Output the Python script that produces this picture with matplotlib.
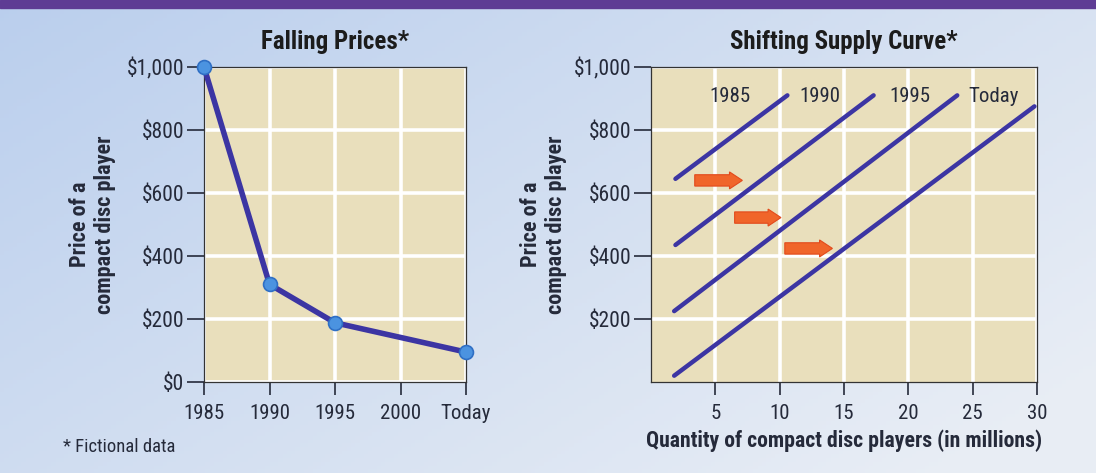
import numpy as np
import matplotlib
matplotlib.use("Agg")
import matplotlib.pyplot as plt
from matplotlib import font_manager
from matplotlib.patches import FancyArrow, Rectangle

# ---- data -------------------------------------------------------------
years = ["1985", "1990", "1995", "2000", "Today"]
price_years = [0, 1, 2, 4]          # positions of 1985, 1990, 1995, Today
prices = [1000, 310, 188, 95]

supply_names = ["1985", "1990", "1995", "Today"]
supply_q0 = [1.9, 1.9, 1.8, 1.8]
supply_p0 = [645, 435, 225, 20]
supply_q1 = [10.6, 17.3, 23.8, 29.8]
supply_p1 = [910, 910, 910, 875]
label_q = [6.15, 13.1, 20.1, 26.6]
label_p = 905

arrow_q0 = [3.4, 6.5, 10.4]
arrow_q1 = [7.1, 10.1, 14.1]
arrow_p = [640, 522, 424]

price_ticks = [0, 200, 400, 600, 800, 1000]
qty_ticks = [5, 10, 15, 20, 25, 30]

# ---- fonts: want something narrow like the textbook's condensed face ----
names = {f.name for f in font_manager.fontManager.ttflist}
narrow = [n for n in ["Liberation Sans Narrow", "Roboto Condensed",
                      "DejaVu Sans Condensed", "Open Sans Condensed"]
          if n in names]
FONT = narrow[0] if narrow else "Roboto"
plt.rcParams["font.family"] = [FONT, "DejaVu Sans"]
K = 1.0 if narrow else 0.86      # shrink when no condensed face exists

TAN = "#e9dfbc"
LINE = "#3c35a3"
TXT = "#252a3a"

fig = plt.figure(figsize=(10.96, 4.73), dpi=100)

# page background: light blue wash plus purple band at top
bg = fig.add_axes([0, 0, 1, 1], zorder=-10)
xx, yy = np.meshgrid(np.linspace(0, 1, 256), np.linspace(0, 1, 128))
t = np.clip(0.65 * xx + 0.45 * (1 - yy), 0, 1)
c0 = np.array([0.73, 0.81, 0.93])
c1 = np.array([0.91, 0.93, 0.96])
img = c0 * (1 - t[..., None]) + c1 * t[..., None]
bg.imshow(img, extent=[0, 1, 0, 1], aspect="auto", origin="lower")
bg.add_patch(Rectangle((0, 1 - 8 / 473), 1, 8 / 473, color="#5e3c94"))
bg.set_xlim(0, 1)
bg.set_ylim(0, 1)
bg.axis("off")


def style(ax):
    ax.set_facecolor(TAN)
    ax.set_axisbelow(True)
    ax.grid(color="white", lw=2.6)
    for s in ax.spines.values():
        s.set_color("#333333")
        s.set_linewidth(0.9)
    ax.tick_params(axis="y", length=12, width=1.2, pad=2, labelsize=15.5 * K,
                   colors=TXT, direction="out")
    ax.tick_params(axis="x", length=9.5, width=1.2, pad=6, labelsize=15 * K,
                   colors=TXT, direction="out")


# ---- left: falling prices --------------------------------------------
ax1 = fig.add_axes([204 / 1096, 91 / 473, 262 / 1096, 315 / 473])
style(ax1)
ax1.plot(price_years, prices, color=LINE, lw=4, solid_capstyle="round",
         zorder=3, clip_on=False)
ax1.plot(price_years, prices, "o", ms=10, mfc="#4b93e0", mec="#2f6fc4",
         mew=1.2, zorder=4, clip_on=False)
ax1.set_xlim(0, 4)
ax1.set_ylim(0, 1000)
ax1.set_xticks(range(len(years)))
ax1.set_xticklabels(years)
ax1.set_yticks(price_ticks)
ax1.set_yticklabels([f"${v:,}" for v in price_ticks])
ax1.set_title("Falling Prices*", fontsize=18 * K, fontweight="bold",
              color="#1c1c1c", pad=13)
ax1.set_ylabel("Price of a\ncompact disc player", fontsize=16 * K,
               fontweight="bold", color=TXT, labelpad=8, linespacing=1.15)
fig.text(63 / 1096, 1 - 447 / 473, "* Fictional data", fontsize=13.4 * K,
         color=TXT, va="center", ha="left")

# ---- right: shifting supply -------------------------------------------
ax2 = fig.add_axes([651 / 1096, 91 / 473, 386 / 1096, 315 / 473])
style(ax2)
for q0, p0, q1, p1 in zip(supply_q0, supply_p0, supply_q1, supply_p1):
    ax2.plot([q0, q1], [p0, p1], color=LINE, lw=3.2, solid_capstyle="round",
             zorder=3)
for name, q in zip(supply_names, label_q):
    ax2.text(q, label_p, name, fontsize=15 * K, color=TXT, ha="center",
             va="center", zorder=4)
for q0, q1, p in zip(arrow_q0, arrow_q1, arrow_p):
    ax2.add_patch(FancyArrow(q0, p, q1 - q0, 0, width=36, head_width=54,
                             head_length=1.0, length_includes_head=True,
                             fc="#f0652a", ec="#e24a1c", lw=0.8, zorder=4))
ax2.set_xlim(0, 30)
ax2.set_ylim(0, 1000)
ax2.set_xticks(qty_ticks)
ax2.set_yticks(price_ticks[1:])
ax2.set_yticklabels([f"${v:,}" for v in price_ticks[1:]])
ax2.set_title("Shifting Supply Curve*", fontsize=18 * K, fontweight="bold",
              color="#1c1c1c", pad=13)
ax2.set_ylabel("Price of a\ncompact disc player", fontsize=16 * K,
               fontweight="bold", color=TXT, labelpad=5, linespacing=1.15)
ax2.set_xlabel("Quantity of compact disc players (in millions)",
               fontsize=15.7 * K, fontweight="bold", color=TXT, labelpad=5)

fig.savefig("out.png", dpi=100)
